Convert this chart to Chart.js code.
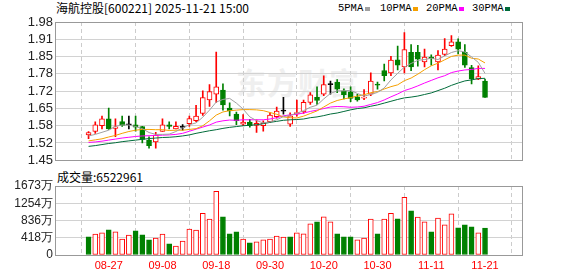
<!DOCTYPE html>
<html>
<head>
<meta charset="utf-8">
<script src="https://cdn.jsdelivr.net/npm/chart.js@4.4.1/dist/chart.umd.min.js"></script>
<style>
html, body { margin: 0; padding: 0; background: #fff; }
#wrap { position: relative; width: 578px; height: 276px; overflow: hidden; }
canvas { position: absolute; left: 0; z-index: 1; }
#priceCanvas { top: 0; }
#volCanvas { top: 170px; }
.txt { position: absolute; white-space: nowrap; color: #000; }
#title { left: 56px; top: 1px; font: 12px/14px "Noto Sans CJK SC", sans-serif; }
.leg { top: 2px; font: 10.5px/12px "Liberation Mono", monospace; }
.sq { position: absolute; top: 7px; width: 5px; height: 4px; }
#volTitle { left: 57px; top: 170px; font: 12px/14px "Noto Sans CJK SC", sans-serif; }
#mark { left: 236px; top: 64px; z-index: 0; font: bold 30px/34px "Noto Sans CJK SC", sans-serif; color: #efefef; letter-spacing: 1px; }
</style>
</head>
<body>
<div id="wrap">
  <div id="mark" class="txt">东方财富</div>
  <canvas id="priceCanvas" width="578" height="170"></canvas>
  <canvas id="volCanvas" width="578" height="106"></canvas>
  <div id="title" class="txt">海航控股[600221] 2025-11-21 15:00</div>
  <div id="legend"></div>
  <div id="volTitle" class="txt"></div>
</div>
<script>
// trading days shown
const dates = ['08-22','08-25','08-26','08-27','08-28','08-29','09-01','09-02','09-03','09-04',
  '09-05','09-08','09-09','09-10','09-11','09-12','09-15','09-16','09-17','09-18',
  '09-19','09-22','09-23','09-24','09-25','09-26','09-29','09-30','10-09','10-10',
  '10-13','10-14','10-15','10-16','10-17','10-20','10-21','10-22','10-23','10-24',
  '10-27','10-28','10-29','10-30','10-31','11-03','11-04','11-05','11-06','11-07',
  '11-10','11-11','11-12','11-13','11-14','11-17','11-18','11-19','11-20','11-21'];

const opens = [1.547,1.560,1.582,1.609,1.572,1.598,1.586,1.586,1.579,1.527,
  1.520,1.560,1.586,1.570,1.576,1.590,1.602,1.629,1.681,1.703,
  1.719,1.650,1.627,1.588,1.596,1.583,1.582,1.598,1.617,1.638,
  1.588,1.628,1.635,1.672,1.691,1.703,1.740,1.750,1.716,1.712,
  1.693,1.688,1.703,1.742,1.794,1.785,1.835,1.808,1.864,1.864,
  1.827,1.845,1.827,1.856,1.889,1.904,1.864,1.805,1.761,1.753];
const closes = [1.556,1.586,1.609,1.570,1.578,1.583,1.586,1.577,1.530,1.506,
  1.546,1.586,1.580,1.580,1.576,1.610,1.619,1.690,1.713,1.731,
  1.662,1.639,1.602,1.596,1.582,1.591,1.593,1.623,1.638,1.638,
  1.620,1.633,1.672,1.701,1.679,1.740,1.740,1.722,1.701,1.687,
  1.681,1.690,1.753,1.738,1.774,1.834,1.814,1.874,1.808,1.837,
  1.845,1.839,1.853,1.876,1.904,1.876,1.814,1.762,1.771,1.691];
const highs = [1.560,1.597,1.619,1.650,1.609,1.619,1.619,1.619,1.580,1.540,
  1.557,1.609,1.597,1.597,1.587,1.619,1.660,1.716,1.740,1.865,
  1.743,1.670,1.635,1.625,1.607,1.605,1.601,1.632,1.654,1.691,
  1.632,1.681,1.681,1.709,1.731,1.774,1.753,1.759,1.724,1.731,
  1.703,1.721,1.785,1.750,1.819,1.848,1.888,1.939,1.893,1.891,
  1.876,1.854,1.870,1.916,1.928,1.915,1.893,1.814,1.812,1.761];
const lows = [1.533,1.553,1.570,1.568,1.540,1.580,1.570,1.561,1.516,1.496,
  1.496,1.560,1.570,1.570,1.565,1.580,1.598,1.622,1.656,1.672,
  1.642,1.620,1.586,1.582,1.577,1.557,1.561,1.594,1.611,1.627,
  1.580,1.619,1.629,1.664,1.664,1.697,1.703,1.709,1.685,1.674,
  1.676,1.682,1.697,1.722,1.754,1.774,1.796,1.785,1.793,1.811,
  1.808,1.814,1.796,1.851,1.886,1.858,1.806,1.743,1.759,1.691];

const ma5 = [1.543,1.549,1.557,1.565,1.580,1.585,1.585,1.579,1.571,1.556,
  1.549,1.549,1.550,1.560,1.574,1.586,1.593,1.615,1.642,1.673,
  1.683,1.687,1.669,1.646,1.616,1.602,1.593,1.597,1.605,1.617,
  1.622,1.630,1.640,1.653,1.661,1.685,1.706,1.716,1.716,1.718,
  1.706,1.696,1.702,1.710,1.727,1.758,1.783,1.807,1.821,1.833,
  1.836,1.841,1.836,1.850,1.863,1.870,1.865,1.846,1.825,1.783];
const ma10 = [1.524,1.528,1.532,1.539,1.545,1.553,1.560,1.565,1.568,1.568,
  1.567,1.567,1.564,1.565,1.565,1.568,1.571,1.582,1.601,1.623,
  1.635,1.640,1.642,1.644,1.644,1.643,1.640,1.633,1.626,1.616,
  1.613,1.612,1.619,1.629,1.639,1.654,1.669,1.679,1.685,1.690,
  1.696,1.701,1.709,1.713,1.723,1.732,1.739,1.755,1.765,1.780,
  1.797,1.812,1.822,1.835,1.848,1.853,1.853,1.841,1.838,1.823];
const ma20 = [1.518,1.520,1.523,1.527,1.531,1.535,1.538,1.541,1.543,1.544,
  1.545,1.546,1.547,1.549,1.553,1.561,1.569,1.577,1.585,1.596,
  1.601,1.604,1.603,1.605,1.605,1.605,1.605,1.608,1.613,1.620,
  1.624,1.626,1.631,1.637,1.642,1.648,1.654,1.656,1.655,1.653,
  1.654,1.657,1.664,1.671,1.681,1.693,1.704,1.717,1.725,1.735,
  1.746,1.756,1.766,1.774,1.786,1.792,1.796,1.798,1.802,1.802];
const ma30 = [1.503,1.506,1.510,1.514,1.517,1.521,1.524,1.527,1.530,1.533,
  1.535,1.537,1.538,1.540,1.543,1.547,1.553,1.558,1.563,1.567,
  1.572,1.576,1.579,1.582,1.584,1.586,1.590,1.595,1.599,1.603,
  1.605,1.606,1.608,1.613,1.616,1.621,1.627,1.631,1.637,1.643,
  1.648,1.651,1.657,1.662,1.669,1.676,1.683,1.689,1.692,1.696,
  1.702,1.708,1.717,1.726,1.737,1.746,1.754,1.758,1.763,1.764];

// volume in 万 (10k), and whether the bar is drawn red (1) or green (0)
const volumes = [442,507,539,611,563,386,483,587,491,370,
  410,507,273,217,338,627,603,1013,869,1544,
  925,515,563,386,298,322,370,386,458,434,
  442,539,515,756,804,925,804,515,442,442,
  370,410,869,515,869,1013,877,1399,1070,917,
  804,563,893,732,997,660,732,684,539,652.2961];
const volUp = [0,1,1,0,1,1,1,0,0,0,
  1,1,0,1,1,1,1,1,1,1,
  0,0,0,1,0,1,1,1,1,1,
  0,1,1,1,0,1,1,0,0,0,
  1,1,1,0,1,1,0,1,0,1,
  1,0,1,1,1,0,0,0,1,0];

const priceTickLabels = ['1.45','1.52','1.58','1.65','1.72','1.78','1.85','1.91','1.98'];
const volTickLabels = ['0','418万','836万','1254万','1673万'];
const xTickLabels = ['08-27','09-08','09-18','09-30','10-20','10-30','11-11','11-21'];

const maNames = ['5PMA','10PMA','20PMA','30PMA'];
const maColors = ['#a0a0a0','#f5a000','#ff00ff','#006b3a'];

const RED = '#ff0000', GREEN = '#008000', BLACK = '#000000';
const xIdx = xTickLabels.map(d => dates.indexOf(d));
const X_MIN = -0.65, X_MAX = 60.16;

const candleColor = closes.map((c, i) => c > opens[i] ? RED : (c < opens[i] ? GREEN : BLACK));
const bodyFill = candleColor.map(c => c === RED ? '#ffffff' : c);

// legend + volume caption
const legend = document.getElementById('legend');
const legLeft = [338, 380, 426, 472];
maNames.forEach((n, k) => {
  const t = document.createElement('div');
  t.className = 'txt leg';
  t.style.left = legLeft[k] + 'px';
  t.textContent = n;
  legend.appendChild(t);
  const s = document.createElement('div');
  s.className = 'sq';
  s.style.left = (legLeft[k] + n.length * 6 + 3) + 'px';
  s.style.background = maColors[k];
  legend.appendChild(s);
});
document.getElementById('volTitle').textContent = '成交量:' + Math.round(volumes[volumes.length - 1] * 10000);

const framePlugin = {
  id: 'frame',
  afterDraw(chart) {
    const a = chart.chartArea, ctx = chart.ctx;
    ctx.save();
    ctx.strokeStyle = '#999999';
    ctx.lineWidth = 1;
    ctx.strokeRect(Math.round(a.left) + 0.5, Math.round(a.top) + 0.5,
      Math.round(a.right - a.left), Math.round(a.bottom - a.top));
    ctx.restore();
  }
};

// red date labels under the volume pane, placed on the x scale's ticks
const dateLabelPlugin = {
  id: 'dateLabels',
  afterDraw(chart) {
    const sx = chart.scales.x, ctx = chart.ctx;
    ctx.save();
    ctx.fillStyle = RED;
    ctx.font = '11px "Liberation Sans Narrow", "Liberation Sans", sans-serif';
    ctx.textAlign = 'center';
    ctx.textBaseline = 'middle';
    sx.ticks.forEach((t, i) => {
      ctx.fillText(xTickLabels[i], sx.getPixelForValue(t.value), chart.chartArea.bottom + 11);
    });
    ctx.restore();
  }
};

function xScale(bottomSpace) {
  return {
    type: 'linear', min: X_MIN, max: X_MAX,
    afterBuildTicks: s => { s.ticks = xIdx.map(v => ({ value: v })); },
    afterFit: s => { s.height = bottomSpace; },
    ticks: { display: false },
    grid: { color: '#cccccc', drawTicks: false },
    border: { display: false, dash: [4, 3] }
  };
}

const pMin = parseFloat(priceTickLabels[0]);
const pMax = parseFloat(priceTickLabels[priceTickLabels.length - 1]);

const maSets = [ma5, ma10, ma20, ma30].map((arr, k) => ({
  type: 'line', order: 0,
  data: arr.map((v, i) => ({ x: i, y: v })),
  borderColor: maColors[k], borderWidth: 1, pointRadius: 0, tension: 0, fill: false
}));

new Chart(document.getElementById('priceCanvas'), {
  type: 'bar',
  data: {
    datasets: [
      ...maSets,
      {
        order: 1, grouped: false,
        data: opens.map((o, i) => ({ x: i, y: [o, closes[i]] })),
        backgroundColor: bodyFill, borderColor: candleColor,
        borderWidth: 1, borderSkipped: false, barThickness: 5, minBarLength: 1
      },
      {
        order: 2, grouped: false,
        data: lows.map((l, i) => ({ x: i, y: [l, highs[i]] })),
        backgroundColor: candleColor, borderWidth: 0, barThickness: 1
      }
    ]
  },
  options: {
    responsive: false, animation: false,
    layout: { padding: { top: 22, right: 56, bottom: 5, left: 0 } },
    plugins: { legend: { display: false }, tooltip: { enabled: false } },
    scales: {
      x: xScale(0),
      y: {
        min: pMin, max: pMax,
        afterBuildTicks: s => {
          s.ticks = priceTickLabels.map((t, k) => ({ value: pMin + k * (pMax - pMin) / (priceTickLabels.length - 1) }));
        },
        afterFit: s => { s.width = 55; },
        ticks: {
          color: '#222222', padding: 2, autoSkip: false,
          font: { family: 'Liberation Sans', size: 13 },
          callback: (v, i) => priceTickLabels[i]
        },
        grid: { color: '#d2d2d2', drawTicks: false },
        border: { display: false }
      }
    }
  },
  plugins: [framePlugin]
});

const vMax = parseFloat(volTickLabels[volTickLabels.length - 1]);
const volColor = volUp.map(u => u ? RED : GREEN);

new Chart(document.getElementById('volCanvas'), {
  type: 'bar',
  data: {
    datasets: [{
      grouped: false,
      data: volumes.map((v, i) => ({ x: i, y: v })),
      backgroundColor: volUp.map(u => u ? '#ffffff' : GREEN),
      borderColor: volColor,
      borderWidth: 1, borderSkipped: false, barThickness: 5
    }]
  },
  options: {
    responsive: false, animation: false,
    layout: { padding: { top: 16, right: 56, bottom: 0, left: 0 } },
    plugins: { legend: { display: false }, tooltip: { enabled: false } },
    scales: {
      x: xScale(21),
      y: {
        min: 0, max: vMax,
        afterBuildTicks: s => {
          s.ticks = volTickLabels.map((t, k) => ({ value: k * vMax / (volTickLabels.length - 1) }));
        },
        afterFit: s => { s.width = 55; },
        ticks: {
          color: '#222222', padding: 2, autoSkip: false,
          font: { family: 'Liberation Sans', size: 12 },
          callback: (v, i) => volTickLabels[i]
        },
        grid: { color: '#d2d2d2', drawTicks: false },
        border: { display: false }
      }
    }
  },
  plugins: [framePlugin, dateLabelPlugin]
});
</script>
</body>
</html>
